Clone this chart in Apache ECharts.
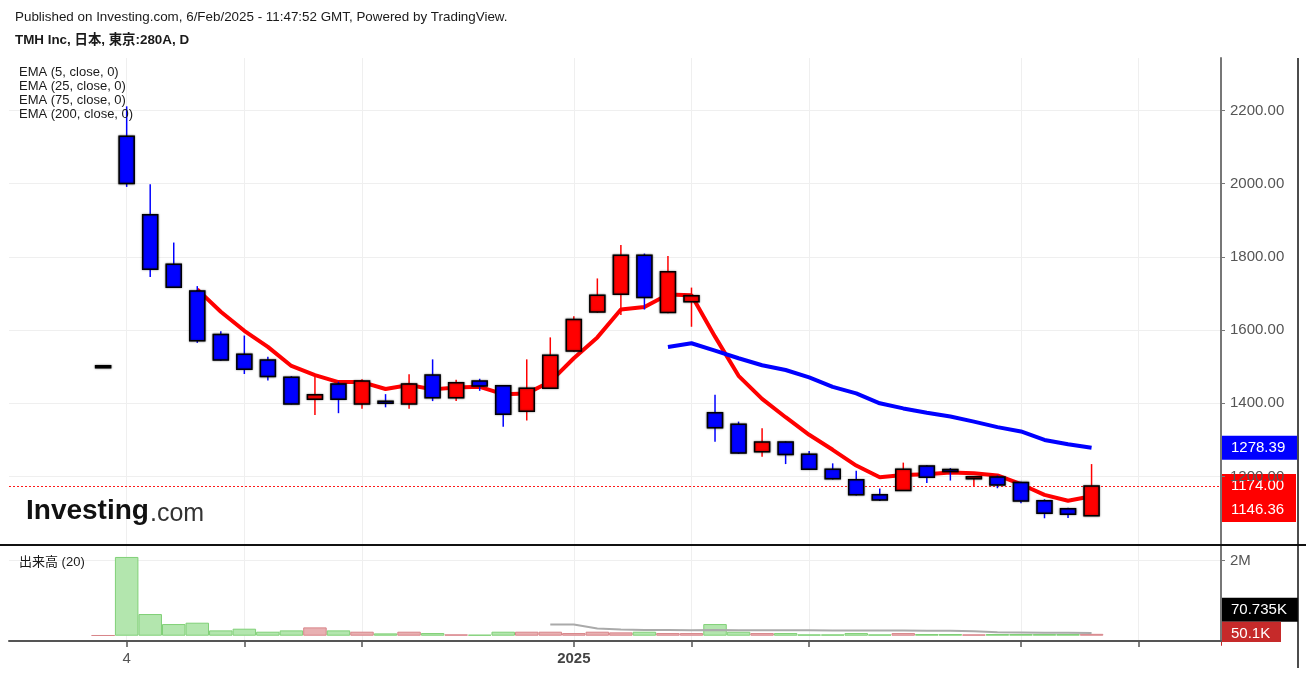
<!DOCTYPE html>
<html>
<head>
<meta charset="utf-8">
<script src="https://cdn.jsdelivr.net/npm/echarts@6/dist/echarts.min.js"></script>
<style>
html, body { margin: 0; padding: 0; background: #fff; }
#chart { width: 1306px; height: 675px; }
</style>
</head>
<body>
<div id="chart"></div>
<script>
'use strict';
// bar n sits at x = n on the time axis
const opens  = [1500, 2129, 1915, 1780, 1707, 1588, 1534, 1518, 1471, 1411, 1453, 1398, 1404, 1398, 1477, 1415, 1461, 1448, 1378, 1441, 1543, 1649, 1698, 1804, 1648, 1677, 1374, 1343, 1268, 1294, 1261, 1220, 1191, 1150, 1162, 1229, 1218, 1196, 1199, 1184, 1134, 1112, 1093];
const closes = [1500, 2000, 1766, 1717, 1571, 1518, 1493, 1473, 1398, 1423, 1411, 1461, 1402, 1453, 1415, 1456, 1447, 1370, 1441, 1531, 1629, 1695, 1804, 1689, 1759, 1694, 1333, 1264, 1294, 1260, 1220, 1194, 1150, 1136, 1220, 1198, 1215, 1198, 1177, 1133, 1100, 1097, 1174];
const lows   = [1500, 1991, 1745, 1715, 1565, 1516, 1480, 1462, 1397, 1368, 1373, 1385, 1389, 1385, 1406, 1406, 1434, 1336, 1353, 1440, 1541, 1647, 1641, 1656, 1646, 1609, 1295, 1262, 1254, 1234, 1218, 1192, 1148, 1133, 1161, 1182, 1189, 1174, 1168, 1127, 1086, 1087, 1093];
const highs  = [1500, 2211, 1998, 1839, 1720, 1597, 1585, 1527, 1474, 1477, 1459, 1466, 1425, 1479, 1520, 1464, 1467, 1450, 1520, 1580, 1638, 1741, 1832, 1809, 1802, 1716, 1423, 1350, 1332, 1296, 1270, 1236, 1216, 1167, 1238, 1231, 1223, 1199, 1203, 1186, 1138, 1115, 1234];
const volumes = [12000, 2100000, 578000, 311000, 347000, 142000, 187000, 107000, 142000, 222000, 142000, 107000, 62000, 107000, 71000, 36000, 27000, 107000, 107000, 107000, 71000, 107000, 89000, 107000, 71000, 71000, 311000, 107000, 71000, 71000, 36000, 36000, 71000, 36000, 71000, 45000, 45000, 36000, 45000, 45000, 45000, 45000, 50100];

// EMA(5) from bar 4, EMA(25) from bar 24, volume MA(20) from bar 19
const ema5Start = 4;
const ema5 = [1711, 1650, 1598, 1554, 1502, 1477, 1458, 1458, 1439, 1450, 1438, 1443, 1445, 1425, 1427, 1459, 1523, 1580, 1656, 1663, 1697, 1695, 1582, 1475, 1412, 1362, 1314, 1273, 1230, 1198, 1204, 1206, 1211, 1209, 1203, 1179, 1150, 1134, 1146.36];
const ema25Start = 24;
const ema25 = [1554, 1564, 1544, 1523, 1504, 1491, 1471, 1445, 1427, 1400, 1386, 1374, 1364, 1350, 1335, 1323, 1300, 1288, 1278.39];
const volMaStart = 19;
const volMa = [300000, 298000, 190000, 165000, 150000, 149000, 148000, 150000, 148000, 147000, 146000, 144000, 142000, 140000, 138000, 136000, 134000, 130000, 120000, 95000, 88000, 82000, 76000, 70735];

const priceTicks = [1200, 1400, 1600, 1800, 2000, 2200];
const volTicks = [2000000];
const timeTicks = [1, 6, 11, 20, 25, 30, 39, 44];
const timeLabels = {1: '4', 20: '2025'};
const legendLines = ['EMA (5, close, 0)', 'EMA (25, close, 0)', 'EMA (75, close, 0)', 'EMA (200, close, 0)'];

const UP = '#ff0000';
const DOWN = '#0000ff';
const FONT = '"Liberation Sans", Arial, "Noto Sans CJK JP", sans-serif';

const candleData = opens.map((o, i) => [i, o, closes[i], lows[i], highs[i]]);
const ema5Data = ema5.map((v, i) => [i + ema5Start, v]);
const ema25Data = ema25.map((v, i) => [i + ema25Start, v]);
const volMaData = volMa.map((v, i) => [i + volMaStart, v]);
const volData = volumes.map((v, i) => {
    const up = closes[i] >= opens[i];
    return {
        value: [i, v],
        itemStyle: {
            color: up ? '#e8b0b2' : '#b3e6ae',
            borderColor: up ? '#d8868a' : '#80d077',
            borderWidth: 1
        }
    };
});

function renderCandle(params, api) {
    const i = api.value(0), o = api.value(1), c = api.value(2), lo = api.value(3), hi = api.value(4);
    const top = api.coord([i, Math.max(o, c)]);
    const bot = api.coord([i, Math.min(o, c)]);
    const pHi = api.coord([i, hi]);
    const pLo = api.coord([i, lo]);
    const w = api.size([1, 0])[0] * 0.64;
    const col = c > o ? UP : (c < o ? DOWN : '#000');
    const h = Math.max(bot[1] - top[1], 2);
    return {
        type: 'group',
        children: [
            {type: 'line', shape: {x1: pHi[0], y1: pHi[1], x2: pLo[0], y2: pLo[1]},
             style: {stroke: col, lineWidth: 1.5}},
            {type: 'rect', shape: {x: top[0] - w / 2, y: top[1] - (h - (bot[1] - top[1])) / 2, width: w, height: h},
             style: {fill: col, stroke: '#000', lineWidth: 1.5, shadowBlur: 2, shadowColor: 'rgba(0,0,0,0.5)'}}
        ]
    };
}

const chart = echarts.init(document.getElementById('chart'));

const option = {
    animation: false,
    textStyle: {fontFamily: FONT},
    grid: [
        {left: 9, top: 58, width: 1212, height: 487},
        {left: 9, top: 546, width: 1212, height: 95}
    ],
    xAxis: [
        {
            type: 'value', gridIndex: 0, min: -4, max: 47.5,
            axisLine: {show: false, onZero: false},
            axisTick: {show: false, customValues: timeTicks},
            axisLabel: {show: false, customValues: timeTicks},
            splitLine: {show: true, lineStyle: {color: '#efefef'}}
        },
        {
            type: 'value', gridIndex: 1, min: -4, max: 47.5,
            axisLine: {show: true, onZero: false, lineStyle: {color: '#555', width: 2}},
            axisTick: {show: true, length: 6, customValues: timeTicks, lineStyle: {color: '#555', width: 1.5}},
            axisLabel: {
                customValues: [1, 20], margin: 10, fontSize: 15, color: '#555', fontFamily: FONT,
                formatter: function (v) {
                    return v === 20 ? '{b|' + timeLabels[v] + '}' : (timeLabels[v] || '');
                },
                rich: {b: {fontWeight: 'bold', fontSize: 15, color: '#444', fontFamily: FONT}}
            },
            splitLine: {show: true, lineStyle: {color: '#efefef'}}
        }
    ],
    yAxis: [
        {
            type: 'value', gridIndex: 0, position: 'right', min: 1013, max: 2343,
            axisLine: {show: true, onZero: false, lineStyle: {color: '#777', width: 2}},
            axisTick: {show: true, length: 4, customValues: priceTicks, lineStyle: {color: '#777'}},
            axisLabel: {customValues: priceTicks, margin: 9, fontSize: 15, color: '#555', fontFamily: FONT,
                formatter: v => v.toFixed(2)},
            splitLine: {show: true, lineStyle: {color: '#efefef'}}
        },
        {
            type: 'value', gridIndex: 1, position: 'right', min: -141000, max: 2392000,
            axisLine: {show: true, onZero: false, lineStyle: {color: '#777', width: 2}},
            axisTick: {show: true, length: 4, customValues: volTicks, lineStyle: {color: '#777'}},
            axisLabel: {customValues: volTicks, margin: 9, fontSize: 15, color: '#555', fontFamily: FONT,
                formatter: v => (v / 1000000) + 'M'},
            splitLine: {show: true, lineStyle: {color: '#efefef'}}
        }
    ],
    series: [
        {
            name: 'EMA5', type: 'line', xAxisIndex: 0, yAxisIndex: 0, data: ema5Data,
            showSymbol: false, symbol: 'none', z: 3,
            lineStyle: {color: UP, width: 4}, itemStyle: {color: UP},
            markLine: {
                silent: true, symbol: 'none', label: {show: false},
                lineStyle: {color: '#ff1a1a', type: [2, 2], width: 1.2, opacity: 1},
                emphasis: {disabled: true},
                data: [{yAxis: closes[closes.length - 1]}]
            }
        },
        {
            name: 'EMA25', type: 'line', xAxisIndex: 0, yAxisIndex: 0, data: ema25Data,
            showSymbol: false, symbol: 'none', z: 3,
            lineStyle: {color: DOWN, width: 4}, itemStyle: {color: DOWN}
        },
        {
            name: 'price', type: 'custom', xAxisIndex: 0, yAxisIndex: 0, data: candleData,
            renderItem: renderCandle, encode: {x: 0, y: [1, 2, 3, 4]}, clip: true, z: 5
        },
        {
            name: 'volume', type: 'bar', xAxisIndex: 1, yAxisIndex: 1, data: volData,
            barWidth: 23.5, z: 2
        },
        {
            name: 'volMA', type: 'line', xAxisIndex: 1, yAxisIndex: 1, data: volMaData,
            showSymbol: false, symbol: 'none', z: 3,
            lineStyle: {color: '#aaaaaa', width: 2}
        }
    ]
};
chart.setOption(option);

// value tags on the right scale
function tag(yCenter, text, bg, width, height) {
    return {
        type: 'group', x: 1221, y: yCenter - height / 2, z: 100,
        children: [
            {type: 'rect', shape: {x: 0, y: 0, width: width, height: height}, style: {fill: bg}},
            {type: 'text', x: 10, y: height / 2,
             style: {text: text, fill: '#fff', font: '15px ' + FONT, textVerticalAlign: 'middle', verticalAlign: 'middle'}}
        ]
    };
}

const yP = v => chart.convertToPixel({yAxisIndex: 0}, v);
const yV = v => chart.convertToPixel({yAxisIndex: 1}, v);
const lastClose = closes[closes.length - 1];
const lastEma5 = ema5[ema5.length - 1];
const lastEma25 = ema25[ema25.length - 1];
const lastVol = volumes[volumes.length - 1];
const lastVolMa = volMa[volMa.length - 1];

const yClose = yP(lastClose);
const yEma5 = Math.max(yP(lastEma5), yClose + 24);
const yVolTag = yV(lastVol);
const yVolMaTag = Math.min(yV(lastVolMa), yVolTag - 12 - 12);

const headerStyle = (t, y, bold) => ({
    type: 'text', x: 15, y: y, z: 100,
    style: {text: t, fill: '#1a1a1a', font: (bold ? 'bold ' : '') + '13.4px ' + FONT, textVerticalAlign: 'middle', verticalAlign: 'middle'}
});

const graphics = [
    headerStyle('Published on Investing.com, 6/Feb/2025 - 11:47:52 GMT, Powered by TradingView.', 17, false),
    headerStyle('TMH Inc, 日本, 東京:280A, D', 40, true),
    {type: 'text', x: 19, y: 562, z: 100,
     style: {text: '出来高 (20)', fill: '#1a1a1a', font: '13px ' + FONT, textVerticalAlign: 'middle', verticalAlign: 'middle'}},
    {type: 'text', x: 26, y: 511, z: 100,
     style: {text: 'Investing', fill: '#111', font: 'bold 28px ' + FONT, textVerticalAlign: 'middle', verticalAlign: 'middle'}},
    {type: 'text', x: 150, y: 514, z: 100,
     style: {text: '.com', fill: '#333', font: '25px ' + FONT, textVerticalAlign: 'middle', verticalAlign: 'middle'}},
    {type: 'line', z: 90, shape: {x1: 0, y1: 545, x2: 1306, y2: 545}, style: {stroke: '#111', lineWidth: 2}},
    {type: 'line', z: 90, shape: {x1: 1298, y1: 58, x2: 1298, y2: 668}, style: {stroke: '#111', lineWidth: 1.5}},
    tag(yP(lastEma25), lastEma25.toFixed(2), '#0000ff', 76, 24),
    tag(yClose, lastClose.toFixed(2), '#ff0000', 75, 24),
    tag(yEma5, lastEma5.toFixed(2), '#ff0000', 75, 24),
    tag(yVolMaTag, (lastVolMa / 1000).toFixed(3) + 'K', '#000000', 77, 24),
    tag(yVolTag, (lastVol / 1000).toFixed(1) + 'K', '#c62a2a', 60, 24),
    // the volume pane clips its tags at the bottom edge
    {type: 'rect', z: 101, shape: {x: 1222, y: 642, width: 75, height: 12}, style: {fill: '#fff'}}
];
legendLines.forEach((t, i) => {
    graphics.push({type: 'text', x: 19, y: 72 + i * 14, z: 100,
        style: {text: t, fill: '#1a1a1a', font: '13px ' + FONT, textVerticalAlign: 'middle', verticalAlign: 'middle'}});
});

chart.setOption({graphic: graphics});
</script>
</body>
</html>
